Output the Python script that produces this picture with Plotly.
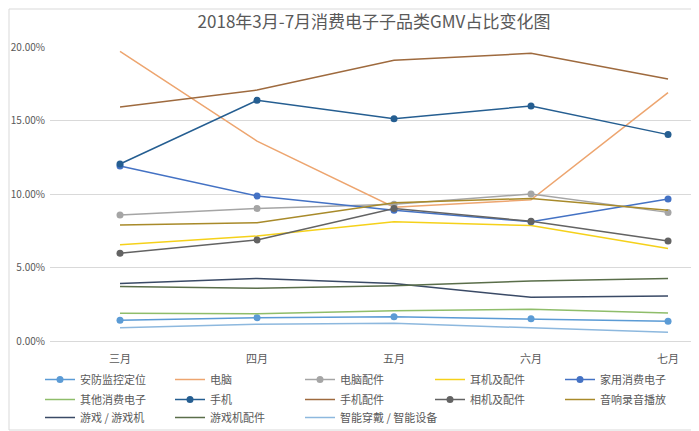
import plotly.graph_objects as go

months = ["三月", "四月", "五月", "六月", "七月"]

anfang = [1.41, 1.59, 1.65, 1.52, 1.34]
diannao = [19.7, 13.6, 9.1, 9.6, 16.9]
diannao_pj = [8.57, 9.02, 9.3, 10.0, 8.75]
erji = [6.55, 7.14, 8.12, 7.85, 6.3]
jiayong = [11.9, 9.86, 8.9, 8.12, 9.66]
qita = [1.88, 1.85, 2.06, 2.16, 1.9]
shouji = [12.04, 16.37, 15.12, 15.99, 14.04]
shouji_pj = [15.92, 17.07, 19.1, 19.57, 17.82]
xiangji = [5.97, 6.87, 9.02, 8.14, 6.8]
yinxiang = [7.89, 8.05, 9.4, 9.7, 8.9]
youxi = [3.92, 4.26, 3.92, 2.97, 3.06]
youxi_pj = [3.7, 3.58, 3.76, 4.08, 4.26]
zhineng = [0.9, 1.14, 1.2, 0.9, 0.59]

series = [
    ("安防监控定位", anfang, "#5b9bd5", True),
    ("电脑", diannao, "#eda56f", False),
    ("电脑配件", diannao_pj, "#a5a5a5", True),
    ("耳机及配件", erji, "#f5d11a", False),
    ("家用消费电子", jiayong, "#4472c4", True),
    ("其他消费电子", qita, "#8fbd6a", False),
    ("手机", shouji, "#255e91", True),
    ("手机配件", shouji_pj, "#9e6a3e", False),
    ("相机及配件", xiangji, "#636363", True),
    ("音响录音播放", yinxiang, "#a88a2a", False),
    ("游戏 / 游戏机", youxi, "#3a4a66", False),
    ("游戏机配件", youxi_pj, "#5a6e4a", False),
    ("智能穿戴 / 智能设备", zhineng, "#8db8de", False),
]

legend_ids = ["legend", "legend2", "legend3"]

W, H = 691, 423

fig = go.Figure()
for i, (name, vals, color, mk) in enumerate(series):
    extra = {}
    if i == len(series) - 1:
        extra["legendwidth"] = 130
    fig.add_trace(go.Scatter(
        x=months, y=vals, name=name,
        mode="lines+markers" if mk else "lines",
        line=dict(color=color, width=1.5),
        marker=dict(color=color, size=7),
        legend=legend_ids[i // 5],
        **extra,
    ))

font_family = "Noto Sans CJK SC, sans-serif"

def make_legend(top_px):
    return dict(orientation="h", xref="container", yref="container",
                x=32 / W, y=1 - top_px / H, xanchor="left", yanchor="top",
                entrywidth=85, entrywidthmode="pixels",
                bgcolor="rgba(0,0,0,0)",
                font=dict(size=11, color="#595959"),
                tracegroupgap=0, itemwidth=30)

fig.update_layout(
    width=W, height=H,
    margin=dict(l=42, r=0, t=39, b=90, autoexpand=False),
    paper_bgcolor="white", plot_bgcolor="white",
    font=dict(family=font_family, color="#595959", size=11),
    title=dict(text="2018年3月-7月消费电子子品类GMV占比变化图",
               x=366 / W, xanchor="center", xref="container",
               y=1 - 14 / H, yanchor="middle", yref="container",
               font=dict(size=17, color="#595959")),
    xaxis=dict(range=[-0.511, 4.226], showgrid=False, showline=True,
               linecolor="#d9d9d9", ticks="", tickfont=dict(size=11),
               ticklabelstandoff=8),
    yaxis=dict(range=[0, 20], tickvals=[0, 5, 10, 15, 20],
               ticktext=["0.00%", "5.00%", "10.00%", "15.00%", "20.00%"],
               gridcolor="#d9d9d9", zeroline=False, showline=False,
               tickfont=dict(size=10), ticklabelstandoff=4),
    showlegend=True,
    legend=make_legend(357),
    legend2=make_legend(377),
    legend3=make_legend(395),
    shapes=[dict(type="rect", xref="paper", yref="paper",
                 x0=-41 / 649, x1=1.2, y0=-89 / 294, y1=1 + 38 / 294,
                 line=dict(color="#d9d9d9", width=1), layer="below")],
)

fig.write_html("out.html")
